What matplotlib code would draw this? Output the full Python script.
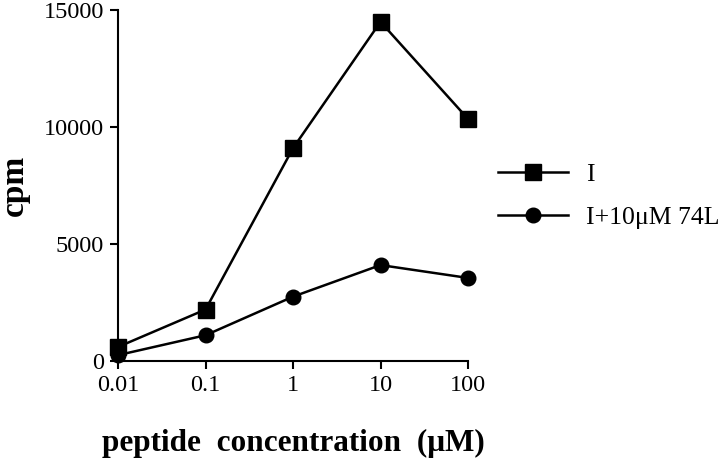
import numpy as np
import matplotlib
matplotlib.use("Agg")
import matplotlib.pyplot as plt

# datos
concentracion = [0.01, 0.1, 1, 10, 100]
cpm_I = [600, 2200, 9100, 14500, 10350]
cpm_I_74L = [250, 1100, 2750, 4100, 3550]
etiquetas_x = ["0.01", "0.1", "1", "10", "100"]
ticks_y = [0, 5000, 10000, 15000]

plt.rcParams['font.family'] = ['Liberation Serif', 'DejaVu Serif']

fig = plt.figure(figsize=(7.2, 4.61), dpi=100)
ax = fig.add_axes([0.164, 0.217, 0.486, 0.761])

ax.plot(concentracion, cpm_I, color='black', lw=1.8, marker='s', ms=11,
        label='I', clip_on=False, zorder=3)
ax.plot(concentracion, cpm_I_74L, color='black', lw=1.8, marker='o', ms=10.5,
        label='I+10\u03bcM 74L', clip_on=False, zorder=3)

ax.set_xscale('log')
ax.set_xlim(0.01, 100)
ax.set_ylim(0, 15000)
ax.set_xticks(concentracion)
ax.set_xticklabels(etiquetas_x)
ax.minorticks_off()
ax.set_yticks(ticks_y)

for lado in ['top', 'right']:
    ax.spines[lado].set_visible(False)
for lado in ['left', 'bottom']:
    ax.spines[lado].set_linewidth(1.5)
ax.tick_params(direction='out', length=6, width=1.5, labelsize=17.5, pad=4)

ax.set_xlabel('peptide  concentration  (\u03bcM)', fontsize=22.5, fontweight='bold', labelpad=24)
ax.set_ylabel('cpm', fontsize=24, fontweight='bold', labelpad=10)

ax.legend(loc='center left', bbox_to_anchor=(0.692, 0.575), bbox_transform=fig.transFigure,
          frameon=False, fontsize=18.5, handlelength=2.7, labelspacing=0.75,
          handletextpad=0.7, borderpad=0, borderaxespad=0)

fig.savefig('out.png', dpi=100)
